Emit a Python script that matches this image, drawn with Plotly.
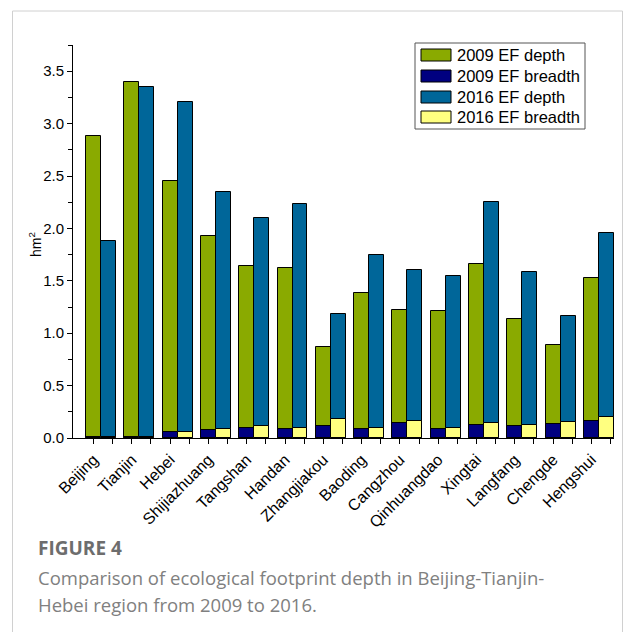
import plotly.graph_objects as go

# Ecological footprint (hm2) per city, 2009 vs 2016
cities = ["Beijing", "Tianjin", "Hebei", "Shijiazhuang", "Tangshan", "Handan",
          "Zhangjiakou", "Baoding", "Cangzhou", "Qinhuangdao", "Xingtai",
          "Langfang", "Chengde", "Hengshui"]
depth_2009 = [2.88, 3.40, 2.45, 1.93, 1.64, 1.62, 0.87, 1.38, 1.22, 1.21, 1.66, 1.14, 0.89, 1.53]
breadth_2009 = [0.010, 0.013, 0.055, 0.075, 0.095, 0.090, 0.110, 0.090, 0.140, 0.085, 0.127, 0.110, 0.135, 0.165]
depth_2016 = [1.88, 3.35, 3.21, 2.35, 2.10, 2.23, 1.18, 1.75, 1.60, 1.55, 2.25, 1.58, 1.16, 1.96]
breadth_2016 = [0.006, 0.010, 0.060, 0.085, 0.115, 0.100, 0.180, 0.100, 0.160, 0.100, 0.140, 0.120, 0.155, 0.200]

series_names = ["2009 EF depth", "2009 EF breadth", "2016 EF depth", "2016 EF breadth"]
colors = ["#8aaa00", "#000080", "#006699", "#ffff80"]

W, H = 625, 632
BAR_W = 0.39
SHIFT = 0.195

idx = list(range(len(cities)))
x_2009 = [i - SHIFT for i in idx]
x_2016 = [i + SHIFT for i in idx]


def px(x):
    return x / W


def py(y):
    return 1 - y / H


fig = go.Figure()
for name, xs, ys, col in [
    (series_names[0], x_2009, depth_2009, colors[0]),
    (series_names[1], x_2009, breadth_2009, colors[1]),
    (series_names[2], x_2016, depth_2016, colors[2]),
    (series_names[3], x_2016, breadth_2016, colors[3]),
]:
    fig.add_trace(go.Bar(
        x=xs, y=ys, name=name, width=BAR_W,
        marker=dict(color=col, line=dict(color="black", width=1)),
        showlegend=False,
    ))

ARIAL = "Liberation Sans, Arial, sans-serif"

fig.update_layout(
    width=W, height=H,
    margin=dict(l=0, r=0, t=0, b=0, autoexpand=False),
    paper_bgcolor="white", plot_bgcolor="white",
    barmode="overlay",
    bargap=0,
    xaxis=dict(
        domain=[px(73), px(614)],
        range=[-0.731, 13.394],
        automargin=False,
        tickmode="array", tickvals=x_2009, ticktext=cities,
        tickangle=-45, tickfont=dict(family=ARIAL, size=16, color="black"),
        ticks="outside", ticklen=5, tickcolor="black", tickwidth=1,
        minor=dict(tickmode="array", tickvals=[i + 0.305 for i in idx],
                   ticks="outside", ticklen=5, tickcolor="black", tickwidth=1,
                   showgrid=False),
        showline=True, linecolor="black", linewidth=1,
        showgrid=False, zeroline=False,
    ),
    yaxis=dict(
        domain=[py(438), py(45)],
        range=[0, 3.75],
        automargin=False,
        tickmode="array", tickvals=[0, 0.5, 1.0, 1.5, 2.0, 2.5, 3.0, 3.5],
        tickformat=".1f", tickfont=dict(family=ARIAL, size=15, color="black"),
        ticks="outside", ticklen=5, tickcolor="black", tickwidth=1,
        minor=dict(dtick=0.25, tick0=0, ticks="outside", ticklen=4,
                   tickcolor="black", tickwidth=1, showgrid=False),
        showline=True, linecolor="black", linewidth=1,
        showgrid=False, zeroline=False,
    ),
)

shapes = []
annotations = []

# card frame
shapes.append(dict(type="rect", xref="paper", yref="paper",
                   x0=px(12.5), x1=px(622.5), y0=py(700), y1=py(11),
                   line=dict(color="#d0d0d0", width=1), fillcolor="rgba(0,0,0,0)",
                   layer="below"))

# legend box
shapes.append(dict(type="rect", xref="paper", yref="paper",
                   x0=px(415), x1=px(585), y0=py(129), y1=py(43),
                   line=dict(color="#555555", width=1), fillcolor="white"))
row_y = [55, 76, 97, 117]
for name, col, ry in zip(series_names, colors, row_y):
    shapes.append(dict(type="rect", xref="paper", yref="paper",
                       x0=px(421), x1=px(451), y0=py(ry + 6), y1=py(ry - 6),
                       line=dict(color="black", width=1), fillcolor=col))
    annotations.append(dict(text=name, xref="paper", yref="paper",
                            x=px(455), y=py(ry), xanchor="left", yanchor="middle",
                            showarrow=False,
                            font=dict(family=ARIAL, size=16.5, color="black")))

# y-axis title
annotations.append(dict(text="hm<sup>2</sup>", xref="paper", yref="paper",
                        x=px(35), y=py(245), xanchor="center", yanchor="middle",
                        textangle=-90, showarrow=False,
                        font=dict(family=ARIAL, size=14, color="black")))

# caption
cap_font = "Open Sans, Lato, sans-serif"
annotations.append(dict(text="<b>FIGURE 4</b>", xref="paper", yref="paper",
                        x=px(36), y=py(548), xanchor="left", yanchor="middle",
                        showarrow=False,
                        font=dict(family=cap_font, size=19, color="#6d6d6d")))
annotations.append(dict(text="Comparison of ecological footprint depth in Beijing-Tianjin-",
                        xref="paper", yref="paper",
                        x=px(36), y=py(577), xanchor="left", yanchor="middle",
                        showarrow=False,
                        font=dict(family=cap_font, size=18.5, color="#808080")))
annotations.append(dict(text="Hebei region from 2009 to 2016.",
                        xref="paper", yref="paper",
                        x=px(36), y=py(604), xanchor="left", yanchor="middle",
                        showarrow=False,
                        font=dict(family=cap_font, size=18.5, color="#808080")))

fig.update_layout(shapes=shapes, annotations=annotations)

fig.write_html("out.html")
